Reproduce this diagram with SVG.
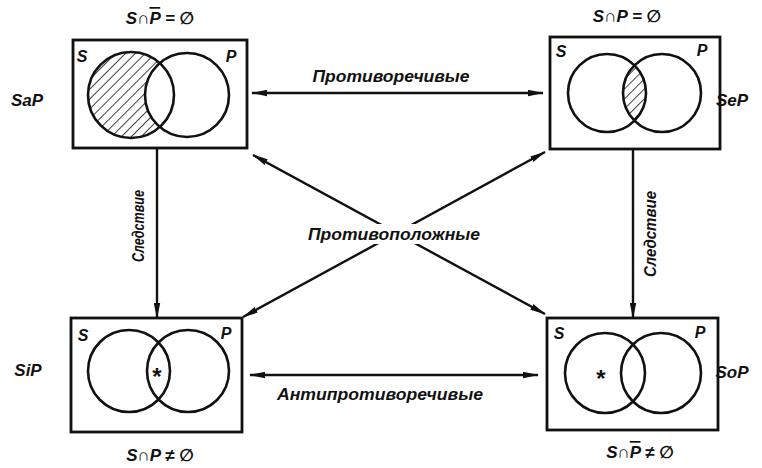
<svg xmlns="http://www.w3.org/2000/svg" width="762" height="468" viewBox="0 0 762 468">
<style>
.box{fill:none;stroke:#111;stroke-width:2.8}
.c{fill:none;stroke:#111;stroke-width:2.6}
.t{font-family:"Liberation Sans","DejaVu Sans",sans-serif;font-style:italic;font-weight:bold;fill:#111;text-anchor:middle;dominant-baseline:central}
.f{font-size:16px}
.s{font-size:16px}
.e{font-size:17px}
.ln{stroke:#111;stroke-width:2.4;fill:none}
</style>
<defs>
<marker id="ah" viewBox="0 0 16 7" refX="15" refY="3.5" markerWidth="16" markerHeight="7" markerUnits="userSpaceOnUse" orient="auto-start-reverse">
<path d="M0,0.3 L16,3.5 L0,6.7 Z" fill="#111"/>
</marker>
<pattern id="hatch" width="7" height="7" patternUnits="userSpaceOnUse" patternTransform="rotate(45)">
<line x1="0" y1="0" x2="0" y2="7" stroke="#111" stroke-width="1.6"/>
</pattern>
<mask id="m1">
<circle cx="131" cy="95" r="43" fill="#fff"/>
<circle cx="187" cy="95" r="42" fill="#000"/>
</mask>
<clipPath id="cp2"><circle cx="607" cy="93" r="39"/></clipPath>
</defs>

<g id="connectors">
<line class="ln" x1="252" y1="93" x2="543" y2="93" marker-start="url(#ah)" marker-end="url(#ah)"/>
<line class="ln" x1="250" y1="375" x2="538" y2="375" marker-start="url(#ah)" marker-end="url(#ah)"/>
<line class="ln" x1="253" y1="155" x2="545" y2="314" marker-start="url(#ah)" marker-end="url(#ah)"/>
<line class="ln" x1="545" y1="152" x2="243" y2="317" marker-start="url(#ah)" marker-end="url(#ah)"/>
<line class="ln" x1="157" y1="148" x2="157" y2="318" marker-end="url(#ah)"/>
<line class="ln" x1="633" y1="149" x2="633" y2="318" marker-end="url(#ah)"/>
<text class="t f" x="391" y="76" textLength="157" lengthAdjust="spacingAndGlyphs">Противоречивые</text>
<rect x="306" y="224" width="176" height="20" fill="#fff"/>
<text class="t f" x="394" y="234" textLength="172" lengthAdjust="spacingAndGlyphs">Противоположные</text>
<text class="t f" x="380" y="394" textLength="206" lengthAdjust="spacingAndGlyphs">Антипротиворечивые</text>
<text class="t f" x="0" y="0" transform="translate(138,226) rotate(-90)" textLength="72" lengthAdjust="spacingAndGlyphs">Следствие</text>
<text class="t f" x="0" y="0" transform="translate(650,234) rotate(-90)" textLength="86" lengthAdjust="spacingAndGlyphs">Следствие</text>
</g>

<g id="SaP">
<rect class="box" x="73" y="40" width="174" height="108"/>
<rect x="80" y="45" width="160" height="100" fill="url(#hatch)" mask="url(#m1)"/>
<circle class="c" cx="131" cy="95" r="43"/>
<circle class="c" cx="187" cy="95" r="42"/>
<text class="t s" x="82" y="56">S</text>
<text class="t s" x="231" y="56">P</text>
<text class="t e" x="27" y="100">SaP</text>
<text class="t e" x="160" y="18">S∩<tspan style="text-decoration:overline">P</tspan> = ∅</text>
</g>

<g id="SeP">
<rect class="box" x="550" y="37" width="170" height="112"/>
<circle cx="662" cy="93" r="39" fill="url(#hatch)" clip-path="url(#cp2)"/>
<circle class="c" cx="607" cy="93" r="39"/>
<circle class="c" cx="662" cy="93" r="39"/>
<text class="t s" x="561" y="51">S</text>
<text class="t s" x="702" y="50">P</text>
<text class="t e" x="732" y="100">SeP</text>
<text class="t e" x="627" y="16">S∩P = ∅</text>
</g>

<g id="SiP">
<rect class="box" x="71" y="318" width="171" height="114"/>
<circle class="c" cx="129" cy="371" r="41"/>
<circle class="c" cx="188" cy="371" r="41"/>
<text class="t s" x="83" y="335">S</text>
<text class="t s" x="226" y="333">P</text>
<text class="t" x="156" y="376" style="font-size:24px">*</text>
<text class="t e" x="28" y="370">SiP</text>
<text class="t e" x="160" y="455">S∩P ≠ ∅</text>
</g>

<g id="SoP">
<rect class="box" x="547" y="318" width="171" height="112"/>
<circle class="c" cx="605" cy="373" r="40"/>
<circle class="c" cx="661" cy="373" r="40"/>
<text class="t s" x="559" y="333">S</text>
<text class="t s" x="700" y="332">P</text>
<text class="t" x="600" y="378" style="font-size:24px">*</text>
<text class="t e" x="732" y="372">SoP</text>
<text class="t e" x="640" y="452">S∩<tspan style="text-decoration:overline">P</tspan> ≠ ∅</text>
</g>
</svg>
